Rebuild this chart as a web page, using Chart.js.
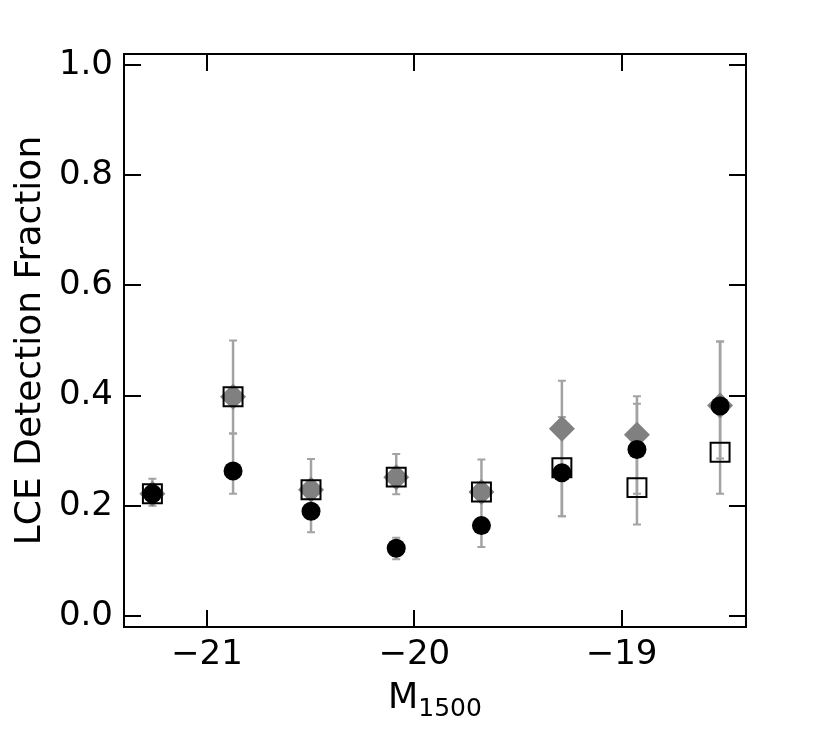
<!DOCTYPE html>
<html>
<head>
<meta charset="utf-8">
<script src="https://cdn.jsdelivr.net/npm/chart.js@4"></script>
<style>
  html, body { margin: 0; padding: 0; background: #fff; }
  #wrap { width: 830px; height: 738px; position: relative; }
</style>
</head>
<body>
<div id="wrap"><canvas id="lce"></canvas></div>
<script>
// magnitude bins (M1500)
const magBins = [-21.263, -20.874, -20.498, -20.087, -19.676, -19.288, -18.926, -18.525];

// LCE detection fractions per sample
const fracCircle  = [0.222, 0.263, 0.190, 0.123, 0.164, 0.260, 0.302, 0.381];
const fracSquare  = [0.222, 0.398, 0.229, 0.252, 0.225, 0.269, 0.233, 0.297];
const fracDiamond = [0.222, 0.398, 0.229, 0.252, 0.225, 0.340, 0.329, 0.382];

// error ranges (null = none drawn)
const diamondLo = [0.200, 0.331, 0.152, 0.221, 0.125, 0.181, 0.166, 0.222];
const diamondHi = [0.249, 0.500, 0.285, 0.294, 0.284, 0.427, 0.399, 0.498];
const circleLo  = [null, 0.222, null, 0.103, null, 0.181, 0.222, 0.286];
const circleHi  = [null, 0.331, null, 0.142, null, 0.361, 0.385, 0.498];

// ticks
const xTickVals = [-21, -20, -19];
const yTickVals = [0.0, 0.2, 0.4, 0.6, 0.8, 1.0];

const FONT = 'DejaVu Sans';
const ERR_COLOR = '#a3a3a3';

const pts = (ys) => magBins.map((x, i) => ({ x: x, y: ys[i] }));

// gray error bars, drawn under the markers
const errorBars = {
  id: 'errorBars',
  beforeDatasetsDraw(chart) {
    const { ctx, scales: { x, y } } = chart;
    ctx.save();
    ctx.strokeStyle = ERR_COLOR;
    const sets = [[diamondLo, diamondHi], [circleLo, circleHi]];
    sets.forEach(([lo, hi]) => {
      magBins.forEach((m, i) => {
        if (lo[i] == null || hi[i] == null) return;
        const px = x.getPixelForValue(m);
        const p1 = y.getPixelForValue(lo[i]);
        const p2 = y.getPixelForValue(hi[i]);
        ctx.lineWidth = 2.5;
        ctx.beginPath();
        ctx.moveTo(px, p1); ctx.lineTo(px, p2);
        ctx.stroke();
        ctx.lineWidth = 2;
        ctx.beginPath();
        ctx.moveTo(px - 4, p1); ctx.lineTo(px + 4, p1);
        ctx.moveTo(px - 4, p2); ctx.lineTo(px + 4, p2);
        ctx.stroke();
      });
    });
    ctx.restore();
  }
};

// frame + inward ticks on all four sides, x title with subscript
const frameTicks = {
  id: 'frameTicks',
  afterDraw(chart) {
    const { ctx, chartArea: a, scales: { x, y } } = chart;
    const tl = 17;
    ctx.save();
    ctx.strokeStyle = '#000';
    ctx.lineWidth = 2;
    ctx.strokeRect(a.left, a.top, a.right - a.left, a.bottom - a.top);
    ctx.beginPath();
    x.ticks.forEach(t => {
      const px = Math.round(x.getPixelForValue(t.value));
      ctx.moveTo(px, a.bottom); ctx.lineTo(px, a.bottom - tl);
      ctx.moveTo(px, a.top); ctx.lineTo(px, a.top + tl);
    });
    y.ticks.forEach(t => {
      const py = Math.round(y.getPixelForValue(t.value));
      ctx.moveTo(a.left, py); ctx.lineTo(a.left + tl, py);
      ctx.moveTo(a.right, py); ctx.lineTo(a.right - tl, py);
    });
    ctx.stroke();

    // x-axis title: M with subscript 1500
    const cx = (a.left + a.right) / 2;
    ctx.fillStyle = '#000';
    ctx.textBaseline = 'alphabetic';
    ctx.textAlign = 'left';
    ctx.font = `35px "${FONT}"`;
    const wM = ctx.measureText('M').width;
    ctx.font = `25px "${FONT}"`;
    const wS = ctx.measureText('1500').width;
    const x0 = cx - (wM + wS) / 2;
    ctx.font = `35px "${FONT}"`;
    ctx.fillText('M', x0, 708);
    ctx.font = `25px "${FONT}"`;
    ctx.fillText('1500', x0 + wM, 716);
    ctx.restore();
  }
};

new Chart(document.getElementById('lce'), {
  type: 'scatter',
  data: {
    datasets: [
      { label: 'circle', data: pts(fracCircle), pointStyle: 'circle', pointRadius: 9.5,
        backgroundColor: '#000', borderColor: '#000', borderWidth: 0 },
      { label: 'square', data: pts(fracSquare), pointStyle: 'rect', pointRadius: 13.4,
        backgroundColor: 'rgba(0,0,0,0)', borderColor: '#000', borderWidth: 2 },
      { label: 'diamond', data: pts(fracDiamond), pointStyle: 'rectRot', pointRadius: 13,
        backgroundColor: '#808080', borderColor: '#808080', borderWidth: 0 }
    ]
  },
  options: {
    responsive: true,
    maintainAspectRatio: false,
    animation: false,
    events: [],
    layout: { padding: { top: 54, right: 84, left: 0, bottom: 0 } },
    plugins: { legend: { display: false }, tooltip: { enabled: false } },
    scales: {
      x: {
        type: 'linear', min: -21.4, max: -18.4,
        afterBuildTicks: s => { s.ticks = xTickVals.map(v => ({ value: v })); },
        afterFit: s => { s.height = 111; },
        grid: { display: false, drawTicks: false },
        border: { display: false },
        ticks: { color: '#000', padding: 8, font: { family: FONT, size: 34 },
          callback: v => (v < 0 ? '\u2212' : '') + Math.abs(v) }
      },
      y: {
        type: 'linear', min: -0.02, max: 1.02,
        afterBuildTicks: s => { s.ticks = yTickVals.map(v => ({ value: v })); },
        afterFit: s => { s.width = 124; },
        grid: { display: false, drawTicks: false },
        border: { display: false },
        title: { display: true, text: 'LCE Detection Fraction', color: '#000',
          padding: { top: 9, bottom: 0 }, font: { family: FONT, size: 36 } },
        ticks: { color: '#000', padding: 11, font: { family: FONT, size: 34 },
          callback: v => Number(v).toFixed(1) }
      }
    }
  },
  plugins: [errorBars, frameTicks]
});
</script>
</body>
</html>
